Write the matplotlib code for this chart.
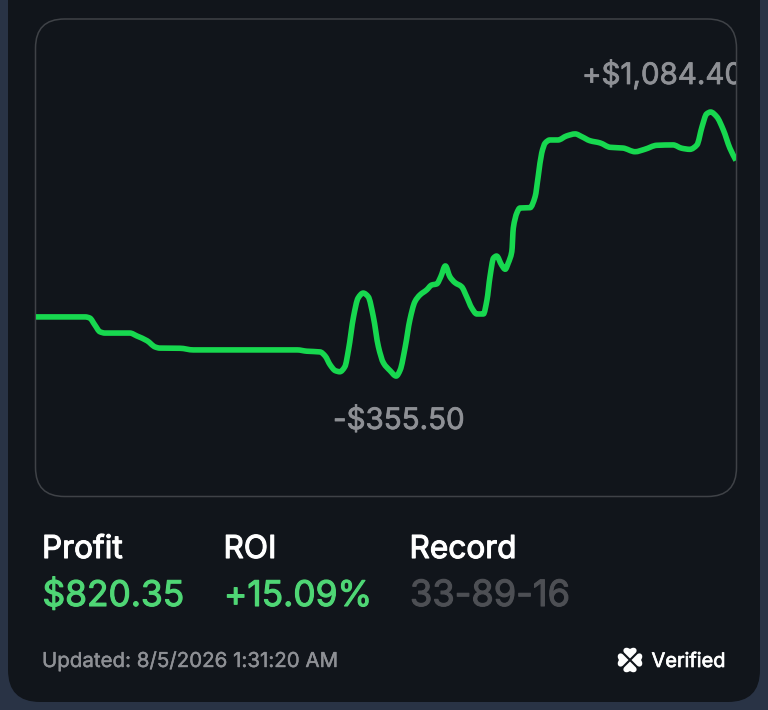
import matplotlib
matplotlib.use("Agg")
import matplotlib.pyplot as plt
import matplotlib.patheffects as pe
from matplotlib.patches import FancyBboxPatch, PathPatch
from matplotlib.path import Path
from matplotlib.transforms import Affine2D

W, H = 768, 710

# cumulative profit by bet number (33-89-16 = 138 settled bets)
bets = [0, 9.7, 10.6, 11.6, 12.6, 13.6, 18.5, 19.9, 21.9, 23.5, 24.4, 28.4, 31, 51.5, 53.4, 56, 57, 58, 59, 59.9,
        60.9, 61.6, 62.6, 63.5, 64.5, 65.5, 66.5, 67.5, 68.5, 69.8, 71, 71.8, 72.8, 73.7, 74.7, 75.7, 77, 78, 79, 79.8,
        80.7, 81.6, 82.6, 83.9, 84.9, 85.9, 86.9, 88.2, 88.9, 89.5, 90.2, 90.8, 91.8, 92.5, 93.1, 93.8, 94.1, 94.8, 95.4, 97.4,
        98.4, 99, 99.7, 100.4, 101.3, 102.9, 104.6, 106.3, 107.6, 109.2, 111.2, 113.2, 115.7, 118.1, 120, 122.4, 125.6, 127.3, 128.9, 130.3,
        131.3, 132.2, 133, 134.2, 135.5, 136.8, 138]
profit = [-33, -33, -39, -77, -114, -121, -121, -137, -163, -197, -203, -204, -213, -213, -220, -224, -246, -295, -326, -332,
          -304, -213, -32, 70, 97, 77, -32, -195, -284, -326, -355.5, -322, -195, -50, 50, 87, 114, 141, 147, 186,
          245, 186, 154, 132, 77, 16, -17, -17, 59, 186, 288, 299, 250, 227, 261, 323, 452, 534, 561, 563,
          623, 732, 861, 916, 932, 932, 954, 965, 950, 928, 916, 892, 888, 868, 881, 903, 905, 887, 881, 905,
          1004, 1074, 1084.4, 1059, 987, 887, 820.35]

max_label = "+$1,084.40"
min_label = "-$355.50"
stat_names = ["Profit", "ROI", "Record"]
stat_values = ["$820.35", "+15.09%", "33-89-16"]

BACK = "#293345"
CARD = "#11151b"
EDGE = "#3f4247"
LINE = "#17d84f"
GREEN = "#4fd675"
GREY = "#8e9095"
DIM = "#4d4f54"

plt.rcParams["font.family"] = ["Inter", "DejaVu Sans"]


def px(n):
    return n * 0.72  # pixels to points at dpi 100


def bold(c, w=0.55):
    # only the regular Inter cut gets picked, so thicken it a little
    return [pe.withStroke(linewidth=w, foreground=c)]


def smooth_path(xs, ys):
    # monotone cubic through the points, the chart library draws it the same way
    d = [(ys[i + 1] - ys[i]) / (xs[i + 1] - xs[i]) for i in range(len(xs) - 1)]
    m = [d[0]]
    for a, b in zip(d[:-1], d[1:]):
        m.append(0 if a * b <= 0 else 2 * a * b / (a + b))
    m.append(d[-1])
    verts = [(xs[0], ys[0])]
    codes = [Path.MOVETO]
    for i in range(len(xs) - 1):
        h = (xs[i + 1] - xs[i]) / 3
        verts += [(xs[i] + h, ys[i] + m[i] * h), (xs[i + 1] - h, ys[i + 1] - m[i + 1] * h), (xs[i + 1], ys[i + 1])]
        codes += [Path.CURVE4] * 3
    return Path(verts, codes)


def leaf(ax, cx, cy, angle):
    # one clover leaf, tip at the centre
    verts = [(0, 1.5), (5.5, 7), (8.5, 10), (5, 14.5), (0, 11), (-5, 14.5), (-8.5, 10), (-5.5, 7), (0, 1.5)]
    codes = [Path.MOVETO, Path.LINETO, Path.CURVE4, Path.CURVE4, Path.CURVE4,
             Path.CURVE4, Path.CURVE4, Path.CURVE4, Path.LINETO]
    tr = Affine2D().rotate_deg(angle).translate(cx, cy) + ax.transData
    ax.add_patch(PathPatch(Path(verts, codes), fc="white", ec="none", transform=tr))


fig = plt.figure(figsize=(W / 100, H / 100), dpi=100, facecolor=BACK)

# pixel canvas for the card and the texts
bg = fig.add_axes([0, 0, 1, 1])
bg.set_xlim(0, W)
bg.set_ylim(H, 0)
bg.axis("off")
bg.add_patch(FancyBboxPatch((8, -80), 752, 782, boxstyle="round,pad=0,rounding_size=32", fc=CARD, ec="none"))
bg.add_patch(FancyBboxPatch((35.5, 19), 701, 477.5, boxstyle="round,pad=0,rounding_size=29", fc="none", ec=EDGE, lw=1.1))

# chart itself
ax = fig.add_axes([36 / W, (H - 496) / H, 700 / W, 477 / H])
ax.set_xlim(0, 138)
ax.set_ylim(-1009.7, 1591.8)
ax.axis("off")
ax.add_patch(PathPatch(smooth_path(bets, profit), fc="none", ec=LINE, lw=px(5.6), capstyle="butt", joinstyle="round"))

t = bg.text(582, 84, max_label, color=GREY, fontsize=px(29.5), ha="left", va="baseline", path_effects=bold(GREY))
t.set_clip_path(ax.patch)
t.set_clip_on(True)
bg.text(333, 429, min_label, color=GREY, fontsize=px(29.5), ha="left", va="baseline", path_effects=bold(GREY))

for name, value, x, c, size in zip(stat_names, stat_values, [41.5, 223, 409], [GREEN, GREEN, DIM], [35.3, 35.3, 36.2]):
    bg.text(x + 0.5, 558, name, color="white", fontsize=px(31.6), ha="left", va="baseline", path_effects=bold("white", 0.8))
    bg.text(x + 1, 606, value, color=c, fontsize=px(size), ha="left", va="baseline", path_effects=bold(c, 0.8))

bg.text(42, 667, "Updated: 8/5/2026 1:31:20 AM", color=GREY, fontsize=px(20.5), ha="left", va="baseline", path_effects=bold(GREY, 0.3))
bg.text(651.5, 667, "Verified", color="white", fontsize=px(20), ha="left", va="baseline", path_effects=bold("white", 0.5))

for a in (0, 90, 180, 270):
    leaf(bg, 630, 660, a)

fig.savefig("out.png", dpi=100, facecolor=BACK)
